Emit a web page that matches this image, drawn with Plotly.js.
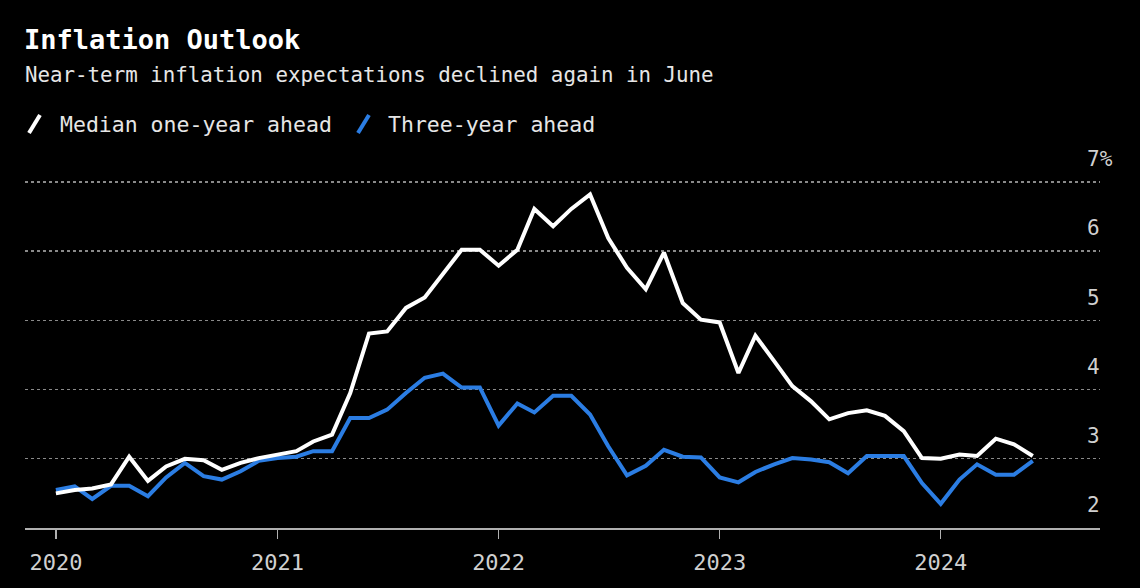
<!DOCTYPE html>
<html>
<head>
<meta charset="utf-8">
<script src="https://cdn.plot.ly/plotly-3.0.1.min.js"></script>
<style>html,body{margin:0;padding:0;background:#000;}#chart{width:1140px;height:588px;}</style>
</head>
<body>
<div id="chart"></div>
<script>
// Monthly data, Jan 2020 – Jun 2024
const startYear = 2020;
const oneYearAhead = [
  2.50, 2.55, 2.57, 2.63, 3.03, 2.68, 2.89, 3.00, 2.98, 2.84, 2.94, 3.01,
  3.06, 3.11, 3.25, 3.35, 3.95, 4.81, 4.84, 5.18, 5.33, 5.66, 6.02, 6.02,
  5.79, 6.02, 6.61, 6.36, 6.61, 6.82, 6.19, 5.76, 5.45, 5.98, 5.25, 5.01,
  4.97, 4.24, 4.78, 4.41, 4.05, 3.83, 3.57, 3.66, 3.70, 3.62, 3.40, 3.01,
  3.00, 3.06, 3.04, 3.29, 3.21, 3.04
];
const threeYearAhead = [
  2.55, 2.60, 2.42, 2.61, 2.61, 2.46, 2.73, 2.94, 2.75, 2.70, 2.82, 2.97,
  3.01, 3.03, 3.11, 3.11, 3.59, 3.59, 3.71, 3.95, 4.17, 4.23, 4.03, 4.03,
  3.48, 3.80, 3.67, 3.91, 3.91, 3.64, 3.18, 2.76, 2.90, 3.13, 3.03, 3.02,
  2.73, 2.66, 2.81, 2.92, 3.01, 2.99, 2.95, 2.79, 3.04, 3.04, 3.04, 2.65,
  2.35, 2.70, 2.92, 2.77, 2.77, 2.97
];
const seriesNames = ["Median one-year ahead", "Three-year ahead"];
const seriesColors = ["#ffffff", "#2b7de3"];
const yTickVals = [2, 3, 4, 5, 6, 7];
const yTickText = ["2", "3", "4", "5", "6", "7%"];
const titleText = "Inflation Outlook";
const subtitleText = "Near-term inflation expectations declined again in June";

const dates = oneYearAhead.map((_, i) => {
  const y = startYear + Math.floor(i / 12);
  const m = (i % 12) + 1;
  return y + "-" + String(m).padStart(2, "0") + "-01";
});

const FONT = "DejaVu Sans Mono, Liberation Mono, monospace";

const traces = [threeYearAhead, oneYearAhead].map((vals, k) => {
  const idx = k === 0 ? 1 : 0;
  return {
    x: dates, y: vals, type: "scatter", mode: "lines",
    name: seriesNames[idx],
    line: { color: seriesColors[idx], width: 4, shape: "linear" },
    hoverinfo: "skip", showlegend: false
  };
});

// plot area: x 25..1100 px, y 175..528 px
const L = 25, R = 1100, T = 175, B = 528;
const px = v => (v - L) / (R - L);
const py = v => (B - v) / (B - T);

const layout = {
  width: 1140, height: 588,
  paper_bgcolor: "#000", plot_bgcolor: "#000",
  margin: { l: L, r: 1140 - R, t: T, b: 588 - B, pad: 0 },
  font: { family: FONT, color: "#d0d0d0" },
  showlegend: false,
  title: {
    text: "<b>" + titleText + "</b>",
    x: 24 / 1140, xanchor: "left", xref: "container",
    y: 1 - 40 / 588, yanchor: "middle", yref: "container",
    font: { family: FONT, size: 27, color: "#ffffff" }
  },
  xaxis: {
    type: "date",
    range: ["2019-11-11", "2024-09-20"],
    dtick: "M12", tick0: "2020-01-01", tickformat: "%Y",
    showgrid: false, zeroline: false,
    showline: true, linecolor: "#b0b0b0", linewidth: 2,
    ticks: "outside", ticklen: 9, tickwidth: 1.5, tickcolor: "#b0b0b0",
    tickfont: { family: FONT, size: 22, color: "#d0d0d0" },
    ticklabelstandoff: 5,
    fixedrange: true
  },
  yaxis: {
    range: [2, 7.1], side: "right",
    tickvals: yTickVals, ticktext: yTickText,
    showgrid: true, gridcolor: "#8a8a8a", gridwidth: 1.3, griddash: "dot",
    zeroline: false, showline: false, ticks: "",
    tickfont: { family: FONT, size: 21, color: "#d0d0d0" },
    ticklabelshift: -23, ticklabelstandoff: -14,
    fixedrange: true
  },
  annotations: [
    {
      text: subtitleText, xref: "paper", yref: "paper",
      x: px(23), y: py(75), xanchor: "left", yanchor: "middle",
      showarrow: false, font: { family: FONT, size: 20.8, color: "#e6e6e6" }
    },
    {
      text: seriesNames[0], xref: "paper", yref: "paper",
      x: px(58), y: py(124), xanchor: "left", yanchor: "middle",
      showarrow: false, font: { family: FONT, size: 21.5, color: "#e6e6e6" }
    },
    {
      text: seriesNames[1], xref: "paper", yref: "paper",
      x: px(386), y: py(124), xanchor: "left", yanchor: "middle",
      showarrow: false, font: { family: FONT, size: 21.5, color: "#e6e6e6" }
    }
  ],
  shapes: [
    { type: "line", xref: "paper", yref: "paper", x0: px(29), y0: py(133), x1: px(40), y1: py(115),
      line: { color: seriesColors[0], width: 4 } },
    { type: "line", xref: "paper", yref: "paper", x0: px(358), y0: py(133), x1: px(369), y1: py(115),
      line: { color: seriesColors[1], width: 4 } }
  ]
};

Plotly.newPlot("chart", traces, layout, { displayModeBar: false, staticPlot: true });
</script>
</body>
</html>
